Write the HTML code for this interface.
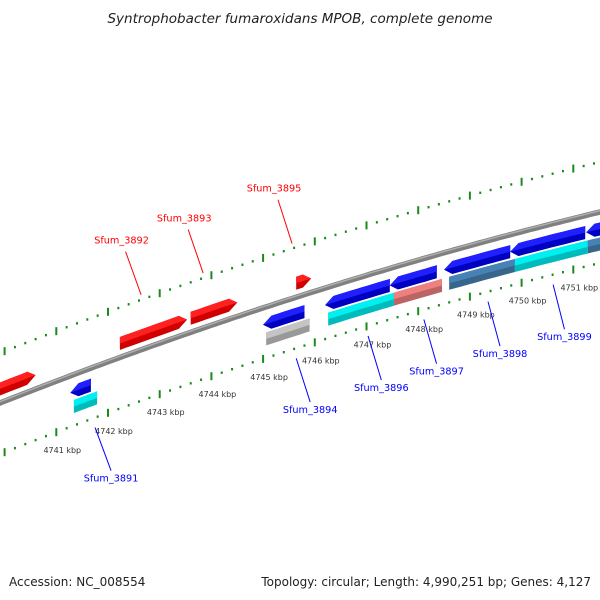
<!DOCTYPE html>
<html><head><meta charset="utf-8"><style>
html,body{margin:0;padding:0;background:#fff;}
svg{display:block;font-family:"DejaVu Sans","Liberation Sans",sans-serif;}
</style></head><body>
<svg id="map" width="600" height="600" viewBox="0 0 600 600" xmlns="http://www.w3.org/2000/svg">
<rect x="0" y="0" width="600" height="600" fill="#fff"/>
<text x="300" y="23" text-anchor="middle" font-size="13.5" font-style="italic" fill="#222">Syntrophobacter fumaroxidans MPOB, complete genome</text>
<text x="9" y="586" font-size="12" fill="#222">Accession: NC_008554</text>
<text x="591" y="586" text-anchor="end" font-size="12" fill="#222">Topology: circular; Length: 4,990,251 bp; Genes: 4,127</text>
<g id="g"></g>
</svg>
<script>
// ---- data (kbp) ----
const fwdStarts = [4739.9, 4742.23, 4743.6, 4745.64];
const fwdEnds   = [4740.6, 4743.53, 4744.5, 4745.93];
const revStarts = [4741.27, 4745.0, 4746.2, 4747.45, 4748.5, 4749.78, 4751.25];
const revEnds   = [4741.67, 4745.8, 4747.45, 4748.36, 4749.78, 4751.23, 4752.2];
const row2Starts = [4741.34, 4745.06, 4746.26, 4747.53, 4748.6, 4749.87, 4751.28];
const row2Ends   = [4741.79, 4745.9, 4747.53, 4748.46, 4749.87, 4751.28, 4752.2];
const row2Colors = ['#00f0f0','#c4c4c4','#00f0f0','#ee8080','#4682b4','#00f0f0','#4682b4'];
const tickLabels = [4741,4742,4743,4744,4745,4746,4747,4748,4749,4750,4751];
const fwdLabelNames = ['Sfum_3892','Sfum_3893','Sfum_3895'];
const fwdLabelPos = [4742.64, 4743.84, 4745.56];
const revLabelNames = ['Sfum_3891','Sfum_3894','Sfum_3896','Sfum_3897','Sfum_3898','Sfum_3899'];
const revLabelPos = [4741.75, 4745.64, 4747.03, 4748.11, 4749.35, 4750.61];

const NS='http://www.w3.org/2000/svg';
const G=document.getElementById('g');
function base(x){return 403-0.395*x+1.278e-4*x*x;}
function der(x){return -0.395+2*1.278e-4*x;}
function X(k){return 108+(k-4742)*51.7;}
function P(k,off){const x=X(k);return [x,base(x)-off];}
function mk(tag,attrs){const e=document.createElementNS(NS,tag);for(const a in attrs)e.setAttribute(a,attrs[a]);G.appendChild(e);return e;}
function pts(a){return a.map(p=>p[0].toFixed(1)+','+p[1].toFixed(1)).join(' ');}

// backbone
let bb=[];for(let x=-5;x<=605;x+=5)bb.push([x,base(x)]);
let e=mk('polyline',{points:pts(bb),fill:'none',stroke:'#808080','stroke-width':5.5});


e=mk('polyline',{points:pts(bb.map(p=>[p[0],p[1]-1.3])),fill:'none',stroke:'#b0b0b0','stroke-width':1.4});



// ticks
for(let i=0;i<=70;i++){
  const k=4739.4+i*0.2; const major=Math.abs(k-Math.round(k))<0.01;
  [50,-51].forEach(o=>{
    const len=major?4:1.2;
    const a=P(k,o-len),b=P(k,o+len);
    const t=mk('line',{x1:a[0],y1:a[1],x2:b[0],y2:b[1],stroke:'#1a8a1a','stroke-width':2});
    
    
  });
}
tickLabels.forEach(k=>{
  const p=P(k,-51);
  const t=mk('text',{x:p[0]+6,y:p[1]+21,'font-size':8,fill:'#333','text-anchor':'middle'});
  t.textContent=k+' kbp';
  
  
});

function feature(k1,k2,c,h,col,dark,dir,name){
  const o1=c+h,o2=c-h,hd=0.16,N=10;
  let top=[],bot=[],mid=[];
  let s=k1,en=k2;
  if(dir>0)en=Math.max(k1,k2-hd); if(dir<0)s=Math.min(k2,k1+hd);
  for(let i=0;i<=N;i++){const k=s+(en-s)*i/N;top.push(P(k,o1));bot.push(P(k,o2));mid.push(P(k,c));}
  let poly;
  if(dir>0)poly=[...top,P(k2,c),...bot.slice().reverse()];
  else if(dir<0)poly=[P(k1,c),...top,...bot.slice().reverse()];
  else poly=[...top,...bot.slice().reverse()];
  const grp=document.createElementNS(NS,'g');G.appendChild(grp);
  
  
  const a=document.createElementNS(NS,'polygon');a.setAttribute('points',pts(poly));a.setAttribute('fill',dark);grp.appendChild(a);
  let hp;
  if(dir>0)hp=[...top,P(k2,c),...mid.slice().reverse()];
  else if(dir<0)hp=[P(k1,c),...top,...mid.slice().reverse()];
  else hp=[...top,...mid.slice().reverse()];
  const b=document.createElementNS(NS,'polygon');b.setAttribute('points',pts(hp));b.setAttribute('fill',col);grp.appendChild(b);
}
function shade(hex,f){const n=parseInt(hex.slice(1),16);const r=(n>>16)&255,g=(n>>8)&255,b=n&255;const m=v=>Math.round(v*f).toString(16).padStart(2,'0');return '#'+m(r)+m(g)+m(b);}
fwdStarts.forEach((s,i)=>feature(s,fwdEnds[i],14,6.5,'#ff2020','#d00000',1,'forward-gene'));
revStarts.forEach((s,i)=>feature(s,revEnds[i],-17,6.5,'#2020ff','#0000c0',-1,'reverse-gene'));
row2Starts.forEach((s,i)=>feature(s,row2Ends[i],-32,6.5,row2Colors[i],shade(row2Colors[i],0.78),0,'cog-feature'));

function label(k,name,col,up){
  const a=up?P(k,55):P(k,-61);
  const d=der(a[0]),n=Math.hypot(1,d),L=46;
  const sgn=up?1:-1;
  const b=[a[0]+sgn*d*L/n, a[1]-sgn*L/n];
  let l=mk('line',{x1:a[0],y1:a[1],x2:b[0],y2:b[1],stroke:col,'stroke-width':1});
  
  
  const t=mk('text',{x:up?b[0]-4:b[0],y:up?b[1]-8:b[1]+11,'font-size':9.7,fill:col,'text-anchor':'middle'});
  t.textContent=name;
  
  
}
fwdLabelPos.forEach((k,i)=>label(k,fwdLabelNames[i],'#ff0000',true));
revLabelPos.forEach((k,i)=>label(k,revLabelNames[i],'#0000ff',false));
</script>
</body></html>
